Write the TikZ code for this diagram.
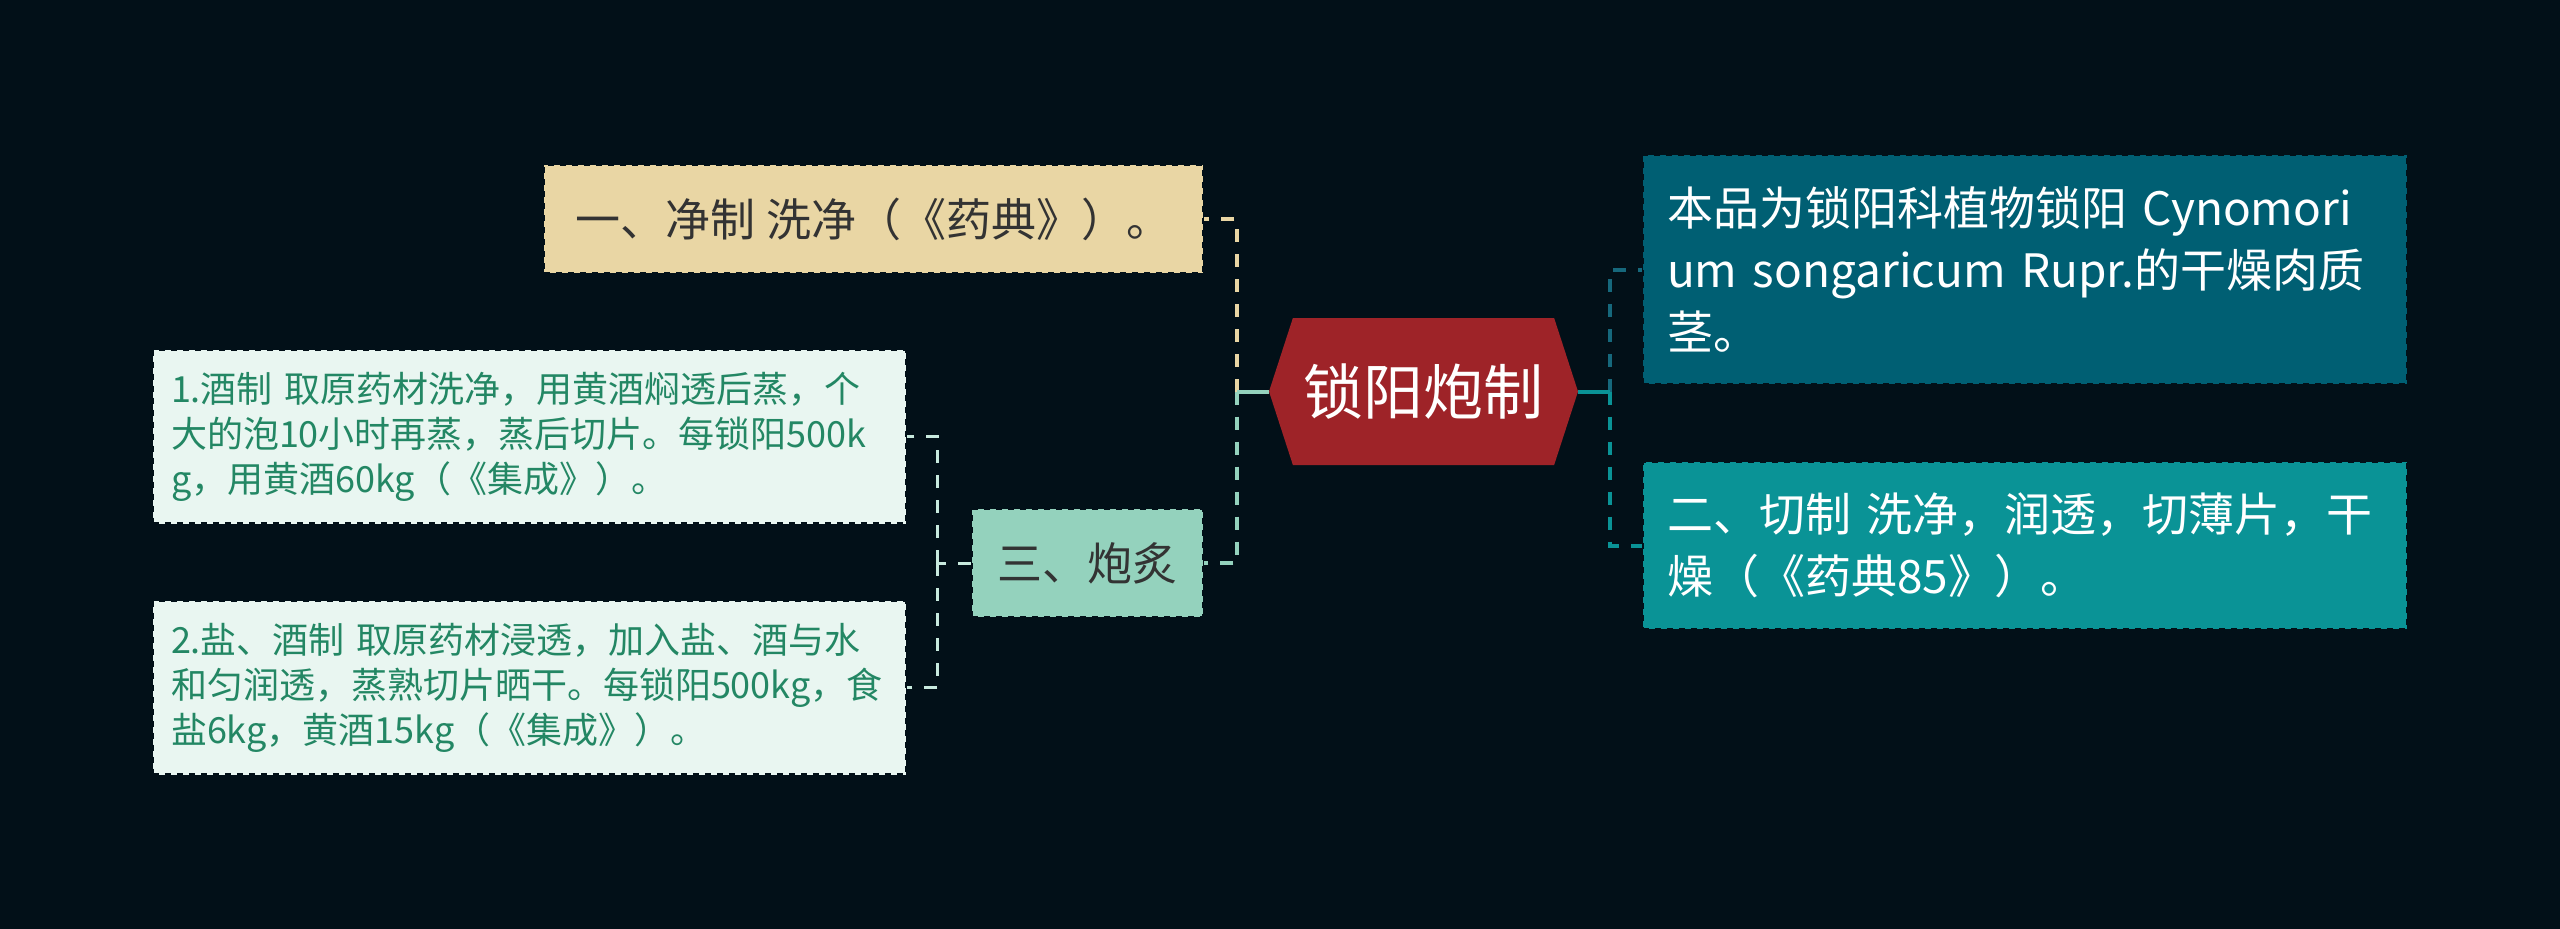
\documentclass[tikz,border=0pt]{standalone}
\usepackage{fontspec}
\usepackage{tikz}
\usetikzlibrary{shapes.symbols,calc}
\newfontfamily\cjk{Noto Sans CJK SC}
\definecolor{mapBg}    {RGB}{2,  16,  24}
\definecolor{rootRed}  {RGB}{158, 35,  40}
\definecolor{sandBeige}{RGB}{233, 214, 164}
\definecolor{mintGreen}{RGB}{148, 210, 189}
\definecolor{deepTeal} {RGB}{0,   95,  115}
\definecolor{midTeal}  {RGB}{10,  147, 150}
\definecolor{paleMint} {RGB}{233, 246, 241}
\definecolor{leafText} {RGB}{35,  135, 100}
\definecolor{inkGray}  {RGB}{51,  51,  51}
\definecolor{linkTeal} {RGB}{22,  104, 124}
\definecolor{linkPale} {RGB}{200, 234, 222}

\begin{document}
\begin{tikzpicture}[x=1pt,y=-1pt,
    topic/.style={rectangle,draw=mapBg,line width=2.5pt,dash pattern=on 6pt off 6pt,
      font=\cjk\fontsize{45}{56}\selectfont,inner xsep=24pt,inner ysep=0pt,align=left},
    leaf/.style={topic,fill=paleMint,text=leafText,font=\cjk\fontsize{36}{45}\selectfont,
      inner xsep=18pt,text width=717pt,minimum height=174pt},
    link/.style={line width=4pt,dash pattern=on 13pt off 12pt},
    stem/.style={line width=4pt}]

    \fill[mapBg] (0,0) rectangle (2560,929);
    \useasboundingbox (0,0) rectangle (2560,929);

    % ── ROOT ──────────────────────────────────────────────
    \node[signal,signal to=west and east,signal pointer angle=144,fill=rootRed,text=white,
      font=\cjk\fontsize{60}{72}\selectfont,minimum width=309pt,minimum height=147pt,inner sep=0pt]
      (root) at (1423.5,391.5) {锁阳炮制};

    % ── LEFT ──────────────────────────────────────────────
    \node[topic,fill=sandBeige,text=inkGray,minimum width=659pt,minimum height=108pt]
      (jingzhi) at (873.5,219) {一、净制 洗净（《药典》）。};
    \node[topic,fill=mintGreen,text=inkGray,minimum width=231pt,minimum height=108pt]
      (paozhi) at (1087.5,563) {三、炮炙};
    \node[leaf] (jiuzhi) at (529.5,436.5)
      {1.酒制 取原药材洗净，用黄酒焖透后蒸，个\\大的泡10小时再蒸，蒸后切片。每锁阳500k\\g，用黄酒60kg（《集成》）。};
    \node[leaf] (yanjiu) at (529.5,687.5)
      {2.盐、酒制 取原药材浸透，加入盐、酒与水\\和匀润透，蒸熟切片晒干。每锁阳500kg，食\\盐6kg，黄酒15kg（《集成》）。};

    % ── RIGHT ─────────────────────────────────────────────
    \node[topic,fill=deepTeal,text=white,font=\cjk\fontsize{46}{62}\selectfont,
      text width=716pt,minimum height=229pt]
      (yuanliu) at (2025,269.5) {本品为锁阳科植物锁阳 Cynomori\\um songaricum Rupr.的干燥肉质\\茎。};
    \node[topic,fill=midTeal,text=white,font=\cjk\fontsize{46}{62}\selectfont,
      text width=716pt,minimum height=167pt]
      (qiezhi) at (2025,545.5) {二、切制 洗净，润透，切薄片，干\\燥（《药典85》）。};

    % connectors
    \coordinate (hubL) at ($(root.west)+(-32,0)$);
    \coordinate (hubR) at ($(root.east)+(32,0)$);
    \coordinate (hubS) at ($(paozhi.west)+(-33,0)$);
    \draw[link,sandBeige] (hubL) |- (jingzhi.east);
    \draw[link,mintGreen] (hubL) |- (paozhi.east);
    \draw[stem,mintGreen] (root.west) -- (hubL);
    \draw[link,linkTeal] (hubR) |- (yuanliu.west);
    \draw[link,midTeal] (hubR) |- (qiezhi.west);
    \draw[stem,midTeal] (root.east) -- (hubR);
    \draw[link,linkPale,line width=3pt] (paozhi.west) -- (hubS);
    \foreach \sub in {jiuzhi,yanjiu}{
      \draw[link,linkPale,line width=3pt] (hubS) |- (\sub.east);
    }

\end{tikzpicture}
\end{document}
